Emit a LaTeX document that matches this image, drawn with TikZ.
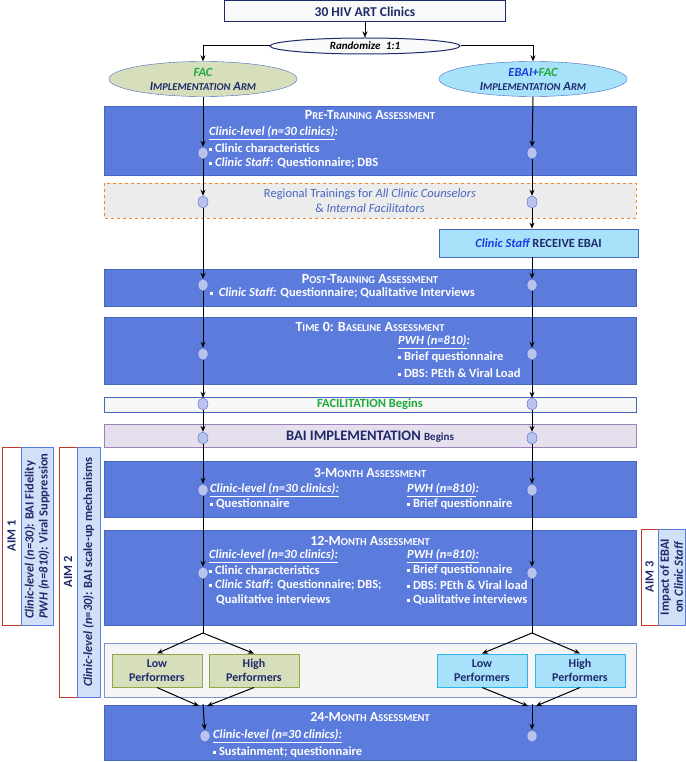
\documentclass[tikz,border=0pt]{standalone}
\usepackage{fontspec}
\setmainfont{Carlito}
\usetikzlibrary{shapes.geometric,arrows.meta}
\definecolor{bbox}{HTML}{5B7BDD}
\definecolor{bbord}{HTML}{4767C0}
\definecolor{dotf}{HTML}{B9C3EE}
\definecolor{navy}{HTML}{1F2A6B}
\definecolor{facg}{HTML}{1FAA3C}
\definecolor{ebaib}{HTML}{1A3BE0}
\definecolor{lblue}{HTML}{A8E2FA}
\definecolor{cyanb}{HTML}{2BB5EC}
\definecolor{olive}{HTML}{D6DEBB}
\definecolor{oliveb}{HTML}{8EAA45}
\definecolor{orng}{HTML}{EE8A2C}
\definecolor{lav}{HTML}{E6E0EE}
\definecolor{lavb}{HTML}{9C82B6}
\definecolor{aimr}{HTML}{C0392B}
\definecolor{aimb}{HTML}{CFE0F7}
\definecolor{aimbb}{HTML}{5B7BDD}
\newcommand\SC[2]{#1{\fontsize{10.5}{11}\selectfont\MakeUppercase{#2}}}
\newcommand\bul{\raisebox{0.25ex}{\rule{3pt}{3pt}}\ }
\begin{document}
\begin{tikzpicture}[x=1pt,y=-1pt,font=\fontsize{12.5}{14}\selectfont\bfseries,
  blue box/.style={draw=bbord,fill=bbox,line width=0.8pt},
  dot/.style={ellipse,draw=bbord,fill=dotf,minimum width=10pt,minimum height=12pt,inner sep=0pt},
  flow/.style={-{Stealth[length=6pt,width=5pt]},line width=1pt,black},
  ttl/.style={text=white,font=\fontsize{14}{15}\selectfont\bfseries},
  wt/.style={text=white,anchor=west,inner sep=0pt},
  aimt/.style={rotate=90,text=navy,font=\fontsize{12.5}{14}\selectfont\bfseries},
  perf/.style={draw,line width=1pt,minimum width=90pt,minimum height=33pt,align=center,text=navy,font=\fontsize{12}{14.5}\selectfont\bfseries}]
\useasboundingbox (0,0) rectangle (685,762);
% title
\node[draw=navy,fill=white!95!gray,line width=1pt,minimum width=281pt,minimum height=21pt,text=navy,font=\fontsize{13.5}{15}\selectfont\bfseries] (top) at (365,11.5) {30 HIV ART Clinics};
\node[ellipse,draw=navy,fill=white!96!gray,line width=1pt,minimum width=190pt,minimum height=16pt,inner sep=0pt,font=\fontsize{11}{12}\selectfont\bfseries\itshape] (rand) at (365,46) {Randomize\enspace 1:1};
\draw[flow] (top) -- (rand);
\node[ellipse,draw=bbord,fill=olive,minimum width=188pt,minimum height=35pt,inner sep=0pt,align=center,text=navy,font=\fontsize{12.5}{14}\selectfont\bfseries\itshape] (fac) at (203,79) {{\color{facg}FAC}\\\SC{I}{mplementation} \SC{A}{rm}};
\node[ellipse,draw=bbord,fill=lblue,minimum width=188pt,minimum height=35pt,inner sep=0pt,align=center,text=navy,font=\fontsize{12.5}{14}\selectfont\bfseries\itshape] (ebai) at (533,79) {{\color{ebaib}EBAI+}{\color{facg}FAC}\\\SC{I}{mplementation} \SC{A}{rm}};
\draw[flow] (rand.west) -| (fac.north);
\draw[flow] (rand.east) -| (ebai.north);
% pre-training
\draw[blue box] (104,106) rectangle (636,175);
\node[ttl] (t1) at (370,115) {\SC{P}{re}-\SC{T}{raining} \SC{A}{ssessment}};
\node[wt] (l1) at (209,133) {\underline{\itshape Clinic-level (n=30 clinics)}\itshape :};
\node[wt] (l2) at (209,148) {\bul Clinic characteristics};
\node[wt] (l3) at (209,163) {\bul \textit{Clinic Staff}: Questionnaire; DBS};
\node[dot] (dl1) at (203,153) {};
\node[dot] (dr1) at (532,153) {};
% regional
\draw[orng,dashed,line width=1pt,fill=gray!15] (104,183) rectangle (636,218);
\node[align=center,text=bbord,font=\fontsize{12.5}{15}\selectfont] (reg) at (370,200.5) {Regional Trainings for \textit{All Clinic Counselors}\\\& \textit{Internal Facilitators}};
\node[dot] (dl2) at (203,202) {};
\node[dot] (dr2) at (532,202) {};
% receive
\node[draw=bbord,fill=lblue,line width=0.8pt,minimum width=199pt,minimum height=28pt,text=navy] (rec) at (538.5,243) {\textit{\color{ebaib}Clinic Staff} RECEIVE EBAI};
% post training
\draw[blue box] (104,269) rectangle (636,306);
\node[ttl] (t2) at (370,279) {\SC{P}{ost}-\SC{T}{raining} \SC{A}{ssessment}};
\node[wt] (p1) at (210,293) {\bul\ \textit{Clinic Staff:} Questionnaire; Qualitative Interviews};
\node[dot] (dl3) at (203,285) {};
\node[dot] (dr3) at (532,285) {};
% time 0
\draw[blue box] (104,317) rectangle (636,384);
\node[ttl] (t3) at (370,327) {\SC{T}{ime} 0: \SC{B}{aseline} \SC{A}{ssessment}};
\node[wt] (q1) at (398,342) {\underline{\itshape PWH (n=810)}\itshape :};
\node[wt] (q2) at (398,357) {\bul Brief questionnaire};
\node[wt] (q3) at (398,373) {\bul DBS: PEth \& Viral Load};
\node[dot] (dl4) at (203,354) {};
\node[dot] (dr4) at (532,354) {};
% facilitation
\draw[bbord,fill=gray!6,line width=0.8pt] (104,397) rectangle (636,412);
\node[text=facg] (fb) at (370,404.5) {FACILITATION Begins};
\node[dot] (dl5) at (203,404) {};
\node[dot] (dr5) at (532,404) {};
% BAI
\draw[lavb,fill=lav,line width=1pt] (104,424) rectangle (636,447);
\node[text=navy,font=\fontsize{14.5}{16}\selectfont\bfseries] (bai) at (370,437) {BAI IMPLEMENTATION {\fontsize{11}{12}\selectfont Begins}};
\node[dot] (dl6) at (203,438) {};
\node[dot] (dr6) at (532,438) {};
% 3-month
\draw[blue box] (104,461) rectangle (636,517);
\node[ttl] (t4) at (370,473) {3-\SC{M}{onth} \SC{A}{ssessment}};
\node[wt] (m1) at (210,490) {\underline{\itshape Clinic-level (n=30 clinics):}};
\node[wt] (m2) at (210,504) {\bul Questionnaire};
\node[wt] (m3) at (407,490) {\underline{\itshape PWH (n=810)}\itshape :};
\node[wt] (m4) at (407,504) {\bul Brief questionnaire};
\node[dot] (dl7) at (203,490) {};
\node[dot] (dr7) at (532,490) {};
% 12-month
\draw[blue box] (104,530) rectangle (636,625);
\node[ttl] (t5) at (370,541) {12-\SC{M}{onth} \SC{A}{ssessment}};
\node[wt] (n1) at (209,556) {\underline{\itshape Clinic-level (n=30 clinics):}};
\node[wt] (n2) at (209,570) {\bul Clinic characteristics};
\node[wt] (n3) at (209,585) {\bul \textit{Clinic Staff}: Questionnaire; DBS;};
\node[wt] (n4) at (216,600) {Qualitative interviews};
\node[wt] (n5) at (407,556) {\underline{\itshape PWH (n=810):}};
\node[wt] (n6) at (407,570) {\bul Brief questionnaire};
\node[wt] (n7) at (407,585) {\bul DBS: PEth \& Viral load};
\node[wt] (n8) at (407,600) {\bul Qualitative interviews};
\node[dot] (dl8) at (203,573) {};
\node[dot] (dr8) at (532,573) {};
% performers
\draw[bbord!70,fill=gray!8,line width=0.8pt] (104,643) rectangle (636,697);
\node[perf,draw=oliveb,fill=olive] (ll) at (157,670.5) {Low\\Performers};
\node[perf,draw=oliveb,fill=olive] (hl) at (254,670.5) {High\\Performers};
\node[perf,draw=cyanb,fill=lblue] (lr) at (482,670.5) {Low\\Performers};
\node[perf,draw=cyanb,fill=lblue] (hr) at (580,670.5) {High\\Performers};
\coordinate (bl) at (203,633);
\coordinate (br) at (532,633);
\coordinate (ml) at (203,706);
\coordinate (mr) at (532,706);
% 24-month
\draw[blue box] (104,705) rectangle (636,760);
\node[ttl] (t6) at (370,717) {24-\SC{M}{onth} \SC{A}{ssessment}};
\node[wt] (s1) at (213,736) {\underline{\itshape Clinic-level (n=30 clinics):}};
\node[wt] (s2) at (213,752) {\bul Sustainment; questionnaire};
\node[dot] (dl9) at (205,736) {};
\node[dot] (dr9) at (532,736) {};
% flow arrows
\draw[flow] (fac.south) -- (dl1);
\draw[flow] (ebai.south) -- (dr1);
\foreach \a/\b in {dl1/dl2,dl2/dl3,dl3/dl4,dl4/dl5,dl5/dl6,dl6/dl7,dl7/dl8,dr1/dr2,dr3/dr4,dr4/dr5,dr5/dr6,dr6/dr7,dr7/dr8}
  \draw[flow] (\a) -- (\b);
\draw[flow] (dr2) -- (rec.north -| dr2);
\draw[flow] (rec.south -| dr3) -- (dr3);
\draw[line width=1pt] (dl8) -- (bl);
\draw[line width=1pt] (dr8) -- (br);
\draw[flow] (bl) -- (ll.north);
\draw[flow] (bl) -- (hl.north);
\draw[flow] (br) -- (lr.north);
\draw[flow] (br) -- (hr.north);
\draw[flow] (ll.south) -- ([xshift=-4pt]ml);
\draw[flow] (hl.south) -- ([xshift=4pt]ml);
\draw[flow] (lr.south) -- ([xshift=-4pt]mr);
\draw[flow] (hr.south) -- ([xshift=4pt]mr);
\draw[flow] ([yshift=2pt]ml) -- (dl9);
\draw[flow] ([yshift=2pt]mr) -- (dr9);
% aims
\draw[aimr,fill=white,line width=1pt] (2,447) rectangle (21,625);
\draw[aimbb,fill=aimb,line width=0.8pt] (21,447) rectangle (53,625);
\node[aimt] (a1) at (11.5,536) {AIM 1};
\node[aimt,align=left] (a1t) at (37,536) {\textit{Clinic-level (n=30)}: BAI Fidelity\\\textit{PWH (n=810)}: Viral Suppression};
\draw[aimr,fill=white,line width=1pt] (59,447) rectangle (77,697);
\draw[aimbb,fill=aimb,line width=0.8pt] (77,447) rectangle (100,697);
\node[aimt] (a2) at (68,572) {AIM 2};
\node[aimt] (a2t) at (88.5,572) {\textit{Clinic-level (n=30)}: BAI scale-up mechanisms};
\draw[aimr,fill=white,line width=1pt] (641,529) rectangle (658,625);
\draw[aimbb,fill=aimb,line width=0.8pt] (658,529) rectangle (685,625);
\node[aimt] (a3) at (649.5,577) {AIM 3};
\node[aimt,align=center] (a3t) at (671.5,577) {Impact of EBAI\\on \textit{Clinic Staff}};
\end{tikzpicture}
\end{document}
